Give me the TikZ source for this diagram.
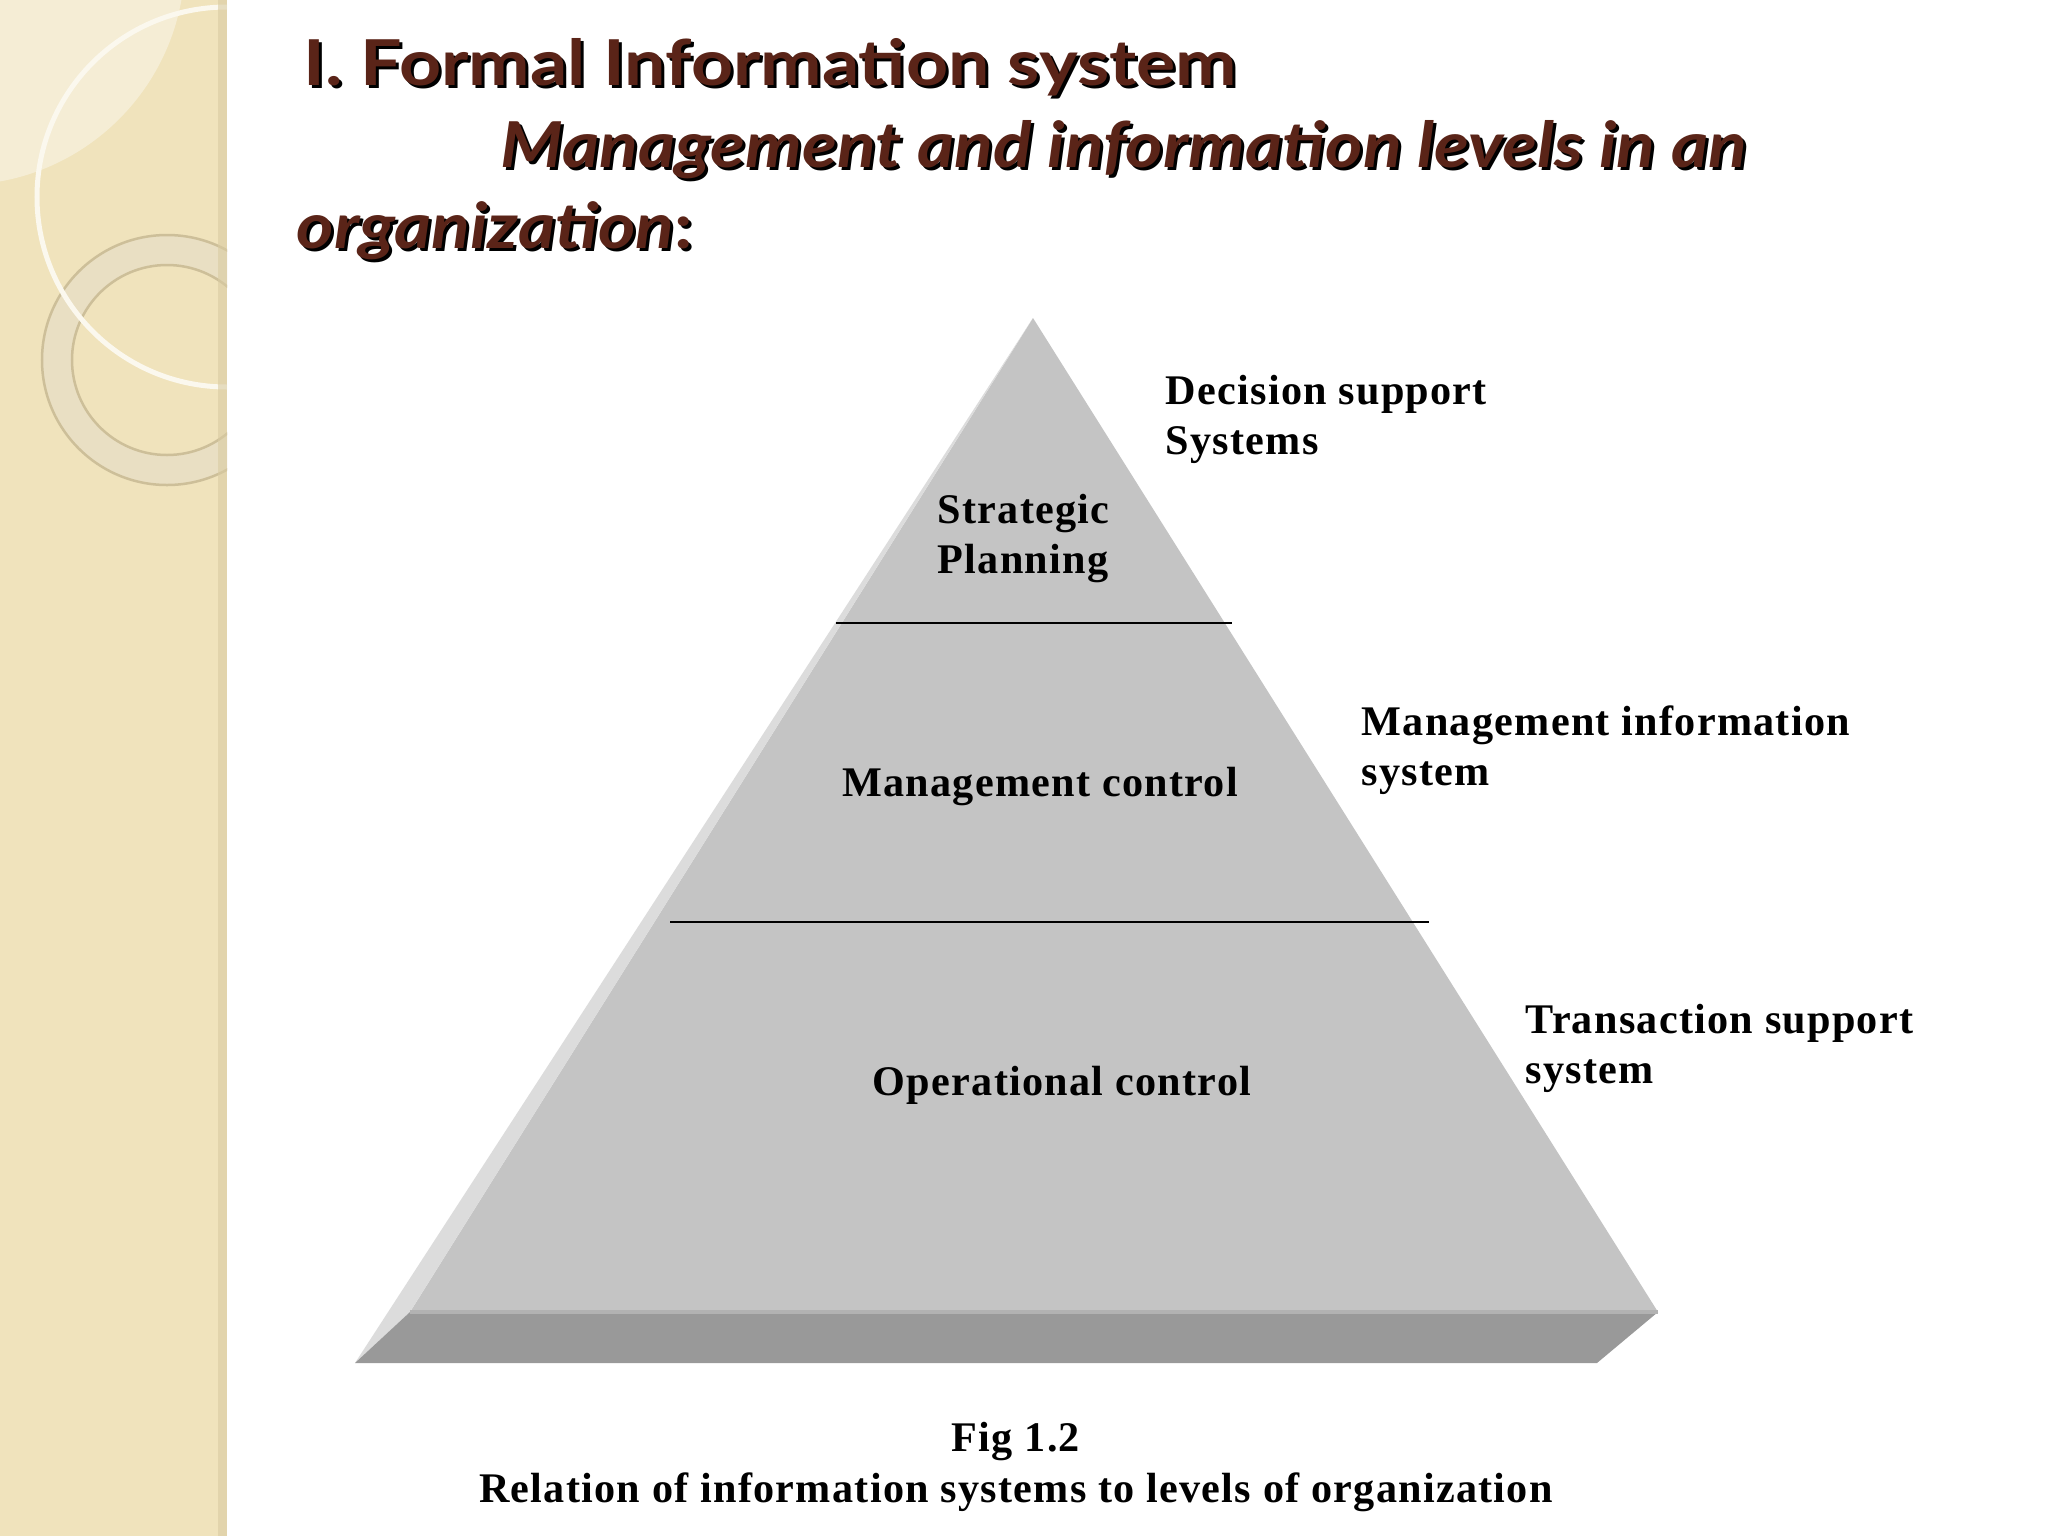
\documentclass[tikz,border=0pt]{standalone}
\usepackage{fontspec}
\setmainfont{Liberation Serif}
\newfontfamily\headfont[FakeStretch=1.16]{Lato}
\newfontfamily\headitfont[FakeStretch=1.13]{Lato}
\newfontfamily\figfont[LetterSpace=3]{Liberation Serif}
\usetikzlibrary{positioning}
\definecolor{headbrown}{HTML}{5A2418}
\definecolor{stripbeige}{HTML}{F0E3BC}
\definecolor{striplight}{HTML}{F5EDD5}
\definecolor{stripedge}{HTML}{D9CBA2}
\definecolor{ringcol}{HTML}{E9DFC3}
\definecolor{ringline}{HTML}{CDBF99}
\definecolor{facegray}{HTML}{C4C4C4}
\definecolor{bevelgray}{HTML}{DCDCDC}
\definecolor{slabgray}{HTML}{999999}
\definecolor{slabtop}{HTML}{B2B2B2}

\begin{document}
\begin{tikzpicture}[x=0.01cm, y=-0.01cm,
  heading/.style={font=\headfont\bfseries\fontsize{18}{22}\selectfont, anchor=base west, inner sep=0pt, text=headbrown},
  headshadow/.style={heading, text=black},
  subheading/.style={heading, font=\headitfont\bfseries\fontsize{18}{22}\selectfont},
  subshadow/.style={subheading, text=black},
  levelbox/.style={font=\figfont\bfseries\fontsize{12}{14.2}\selectfont, inner sep=0pt},
  sidebox/.style={levelbox, align=left, anchor=north west},
  capbox/.style={levelbox, anchor=base},
  divider/.style={draw=black, line width=0.6pt}]

\fill[white] (0,0) rectangle (2048,1536);
\useasboundingbox (0,0) rectangle (2048,1536);

\fill[stripbeige] (0,0) rectangle (227,1536);
\begin{scope}
  \clip (0,0) rectangle (227,1536);
  \fill[striplight] (-40,-40) circle (225);
  \draw[ringcol, line width=3mm] (167,360) circle (110);
  \draw[ringline, line width=0.25mm] (167,360) circle (125) (167,360) circle (95);
  \draw[white!60!striplight, line width=0.5mm] (227,197) circle (190);
\end{scope}
\fill[stripedge, opacity=0.6] (218,0) rectangle (227,1536);

\node[headshadow] (title1s) at (306,88) {I. Formal Information system};
\node[heading] (title1) at (303,85) {I. Formal Information system};
\node[subshadow] (title2s) at (503,170) {\itshape Management and information levels in an};
\node[subheading] (title2) at (500,167) {\itshape Management and information levels in an};
\node[subshadow] (title3s) at (299,251) {{\itshape organization}:};
\node[subheading] (title3) at (296,248) {{\itshape organization}:};

\coordinate (apex) at (1033,318);
\coordinate (fl) at (410,1312);
\coordinate (fr) at (1658,1312);
\coordinate (bl) at (355,1363);
\coordinate (br) at (1597,1363);
\fill[facegray] (apex) -- (fl) -- (fr) -- cycle;
\fill[bevelgray] (apex) -- (bl) -- (fl) -- cycle;
\fill[slabgray] (fl) -- (fr) -- (br) -- (bl) -- cycle;
\draw[slabtop, line width=1.2pt] (fl) -- (fr);

\coordinate (d1l) at (836,623);
\coordinate (d1r) at (1232,623);
\coordinate (d2l) at (670,922);
\coordinate (d2r) at (1429,922);
\draw[divider] (d1l) -- (d1r);
\draw[divider] (d2l) -- (d2r);

\node[sidebox] (strat) at (937,494) {Strategic\\Planning};
\node[levelbox, anchor=base] (mgmt) at (1040,796) {Management control};
\node[levelbox, anchor=base] (oper) at (1062,1095) {Operational control};

\node[sidebox] (dss) at (1165,375) {Decision support\\Systems};
\node[sidebox] (mis) at (1361,705) {Management information\\system};
\node[sidebox] (tps) at (1525,1004) {Transaction support\\system};

\node[capbox] (fig) at (1016,1451) {Fig 1.2};
\node[capbox] (caption) at (1016,1502) {Relation of information systems to levels of organization};
\end{tikzpicture}
\end{document}
